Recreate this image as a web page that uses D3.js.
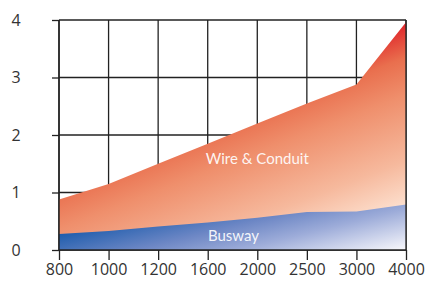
<!DOCTYPE html>
<html>
<head>
<meta charset="utf-8">
<script src="https://cdn.jsdelivr.net/npm/d3@7"></script>
<style>
  body { margin: 0; background: #fff; }
  svg { display: block; }
  .tick text { font-family: 'Open Sans', sans-serif; font-size: 16px; fill: #333; }
  .lbl { font-family: Lato, 'Open Sans', sans-serif; font-size: 15px; fill: #fff; fill-opacity: 0.92; }
</style>
</head>
<body>
<div id="chart"></div>
<script>
const categories = ['800', '1000', '1200', '1600', '2000', '2500', '3000', '4000'];
const wireConduit = [0.88, 1.15, 1.5, 1.85, 2.2, 2.55, 2.88, 3.96];
const busway = [0.28, 0.33, 0.41, 0.48, 0.56, 0.66, 0.67, 0.79];
const yTicks = [0, 1, 2, 3, 4];

const W = 425, H = 290;
const margin = {top: 20, right: 19, bottom: 40, left: 59};
const width = W - margin.left - margin.right;
const height = H - margin.top - margin.bottom;

const svg = d3.select('#chart').append('svg')
  .attr('width', W)
  .attr('height', H);

const defs = svg.append('defs');

// orange -> peach, red only in the top right corner
// (coords are in the plot group's space)
const gWire = defs.append('linearGradient')
  .attr('id', 'gWire')
  .attr('gradientUnits', 'userSpaceOnUse')
  .attr('x1', width).attr('y1', 0)
  .attr('x2', width + 63).attr('y2', 163);
[[0, '#e01f28'], [0.1, '#e4483b'], [0.2, '#e96f4e'], [0.4, '#ef8f6c'], [0.75, '#f6b99d'], [1, '#fde1d0']]
  .forEach(s => gWire.append('stop').attr('offset', s[0]).attr('stop-color', s[1]));

const gBus = defs.append('linearGradient')
  .attr('id', 'gBus')
  .attr('gradientUnits', 'userSpaceOnUse')
  .attr('x1', 0).attr('y1', height - 16)
  .attr('x2', 23).attr('y2', height + 78);
[[0, '#1f5dad'], [0.35, '#6d87c5'], [0.6, '#9dacd9'], [1, '#f6f6fb']]
  .forEach(s => gBus.append('stop').attr('offset', s[0]).attr('stop-color', s[1]));

const g = svg.append('g')
  .attr('transform', 'translate(' + margin.left + ',' + margin.top + ')');

const x = d3.scalePoint()
  .domain(categories)
  .range([0, width]);

const y = d3.scaleLinear()
  .domain([0, 4])
  .range([height, 0]);

// grid behind the areas
g.append('g')
  .selectAll('line')
  .data(categories)
  .join('line')
  .attr('x1', d => x(d)).attr('x2', d => x(d))
  .attr('y1', 0).attr('y2', height)
  .attr('stroke', '#222').attr('stroke-width', 1.3);

g.append('g')
  .selectAll('line')
  .data(yTicks)
  .join('line')
  .attr('x1', 0).attr('x2', width)
  .attr('y1', d => y(d)).attr('y2', d => y(d))
  .attr('stroke', '#222').attr('stroke-width', 1.3);

const area = d3.area()
  .x((d, i) => x(categories[i]))
  .y0(y(0))
  .y1(d => y(d));

g.append('path')
  .datum(wireConduit)
  .attr('fill', 'url(#gWire)')
  .attr('d', area);

g.append('path')
  .datum(busway)
  .attr('fill', 'url(#gBus)')
  .attr('d', area);

// frame lines on top
g.append('line')
  .attr('x1', width).attr('x2', width).attr('y1', 0).attr('y2', height)
  .attr('stroke', '#222').attr('stroke-width', 1.3);

const xAxis = g.append('g')
  .attr('transform', 'translate(0,' + height + ')')
  .call(d3.axisBottom(x).tickSize(10).tickPadding(4));

const yAxis = g.append('g')
  .call(d3.axisLeft(y).tickValues(yTicks).tickFormat(d3.format('d')).tickSize(7).tickPadding(36));

[xAxis, yAxis].forEach(a => {
  a.select('.domain').remove();
  a.selectAll('.tick line').attr('stroke', '#222').attr('stroke-width', 1.3);
});
yAxis.selectAll('.tick text').attr('text-anchor', 'middle');

g.append('line')
  .attr('x1', 0).attr('x2', 0).attr('y1', 0).attr('y2', height)
  .attr('stroke', '#222').attr('stroke-width', 1.5);
g.append('line')
  .attr('x1', 0).attr('x2', width).attr('y1', height).attr('y2', height)
  .attr('stroke', '#222').attr('stroke-width', 1.5);

g.append('text')
  .attr('class', 'lbl')
  .attr('x', x('2000'))
  .attr('y', y(1.5))
  .attr('text-anchor', 'middle')
  .text('Wire & Conduit');

g.append('text')
  .attr('class', 'lbl')
  .attr('x', (x('1600') + x('2000')) / 2 + 1)
  .attr('y', y(0) - 9)
  .attr('text-anchor', 'middle')
  .text('Busway');
</script>
</body>
</html>
